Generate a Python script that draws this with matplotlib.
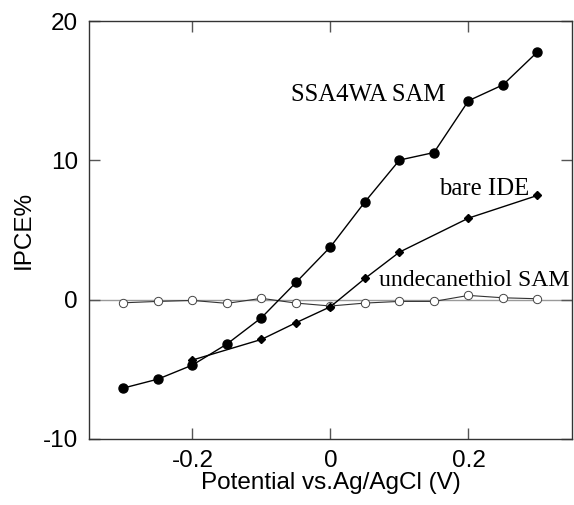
import numpy as np
import matplotlib
matplotlib.use('Agg')
import matplotlib.pyplot as plt

plt.rcParams['font.family'] = ['Liberation Sans', 'DejaVu Sans']
plt.rcParams['axes.unicode_minus'] = False

potential = [-0.3, -0.25, -0.2, -0.15, -0.1, -0.05, 0.0, 0.05, 0.1, 0.15, 0.2, 0.25, 0.3]
ssa4wa = [-6.34, -5.70, -4.69, -3.18, -1.29, 1.24, 3.80, 7.03, 10.03, 10.57, 14.29, 15.43, 17.80]
undecanethiol = [-0.22, -0.12, -0.05, -0.26, 0.10, -0.24, -0.45, -0.24, -0.12, -0.12, 0.31, 0.14, 0.07]

bare_x = [-0.2, -0.1, -0.05, 0.0, 0.05, 0.1, 0.2, 0.3]
bare_ide = [-4.33, -2.85, -1.65, -0.50, 1.53, 3.42, 5.86, 7.49]

xticks = [-0.2, 0, 0.2]
xticklabels = ['-0.2', '0', '0.2']
yticks = [-10, 0, 10, 20]
yticklabels = ['-10', '0', '10', '20']

fig = plt.figure(figsize=(5.74, 5.05), dpi=100)
ax = fig.add_axes([0.155, 0.1307, 0.8415, 0.8273])

ax.axhline(0, color='#9a9a9a', lw=1.0, zorder=1)
ax.plot(potential, undecanethiol, color='#333333', lw=0.8, marker='o', ms=6,
        mfc='white', mec='#444444', mew=0.7, zorder=2)
ax.plot(bare_x, bare_ide, color='black', lw=1.0, marker='D', ms=4.2,
        mfc='black', mec='black', zorder=3)
ax.plot(potential, ssa4wa, color='black', lw=1.0, marker='o', ms=6.5,
        mfc='black', mec='black', zorder=4)

# curve labels, Times-like
serif = ['Liberation Serif', 'DejaVu Serif']
ax.text(-0.057, 14.3, 'SSA4WA SAM', family=serif, fontsize=17.8, ha='left', va='baseline')
ax.text(0.158, 7.5, 'bare IDE', family=serif, fontsize=17.8, ha='left', va='baseline')
ax.text(0.07, 1.0, 'undecanethiol SAM', family=serif, fontsize=17.1, ha='left', va='baseline')

ax.set_xlim(-0.35, 0.35)
ax.set_ylim(-10, 20)
ax.set_xticks(xticks)
ax.set_xticklabels(xticklabels)
ax.set_yticks(yticks)
ax.set_yticklabels(yticklabels)
ax.tick_params(direction='in', length=8, width=1, color='#555555', labelsize=17.5,
               top=True, right=True, pad=8)
for s in ax.spines.values():
    s.set_color('#333333')
    s.set_linewidth(1.0)

ax.set_xlabel('Potential vs.Ag/AgCl (V)', fontsize=17.5, labelpad=0)
ax.set_ylabel('IPCE%', fontsize=17.5, labelpad=6)

fig.savefig('out.png', dpi=100)
